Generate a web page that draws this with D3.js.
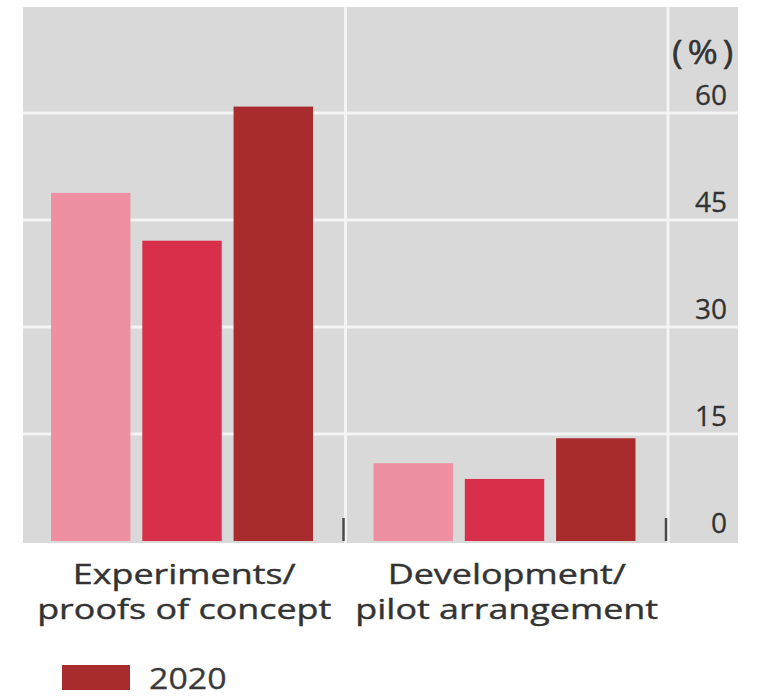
<!DOCTYPE html>
<html>
<head>
<meta charset="utf-8">
<script src="https://cdn.jsdelivr.net/npm/d3@7"></script>
<style>
  html, body { margin: 0; padding: 0; background: #ffffff; }
  svg { display: block; }
</style>
</head>
<body>
<script>
// ---- data ----
const categories = ["Experiments/ proofs of concept", "Development/ pilot arrangement"];
const categoryLines = [["Experiments/", "proofs of concept"], ["Development/", "pilot arrangement"]];
const series = ["2018", "2019", "2020"];
const values2018 = [48.8, 10.9];
const values2019 = [42.1, 8.7];
const values2020 = [60.9, 14.4];
const tickValues = [0, 15, 30, 45, 60];
const tickLabels = ["0", "15", "30", "45", "60"];
const unitLabel = "(%)";
const legendSeries = ["2020"];

const seriesValues = [values2018, values2019, values2020];
const colors = ["#EF8FA2", "#D8304B", "#A82C2D"];

// ---- layout ----
const W = 769, H = 696;
const frame = { left: 23, right: 738, top: 7, bottom: 543 };

const svg = d3.select("body").append("svg").attr("width", W).attr("height", H);

const x = d3.scaleBand().domain(categories).range([23, 668]).paddingInner(0).paddingOuter(0);
const x1 = d3.scaleBand().domain(series).range([28, 290]).paddingInner(0.13).paddingOuter(0);
const y = d3.scaleLinear().domain([0, 60]).range([541, 113]);
const color = d3.scaleOrdinal().domain(series).range(colors);

// background
svg.append("rect")
  .attr("x", frame.left).attr("y", frame.top)
  .attr("width", frame.right - frame.left).attr("height", frame.bottom - frame.top)
  .attr("fill", "#D9D9D9");

// horizontal gridlines
svg.append("g").selectAll("line")
  .data(tickValues.filter(d => d > 0))
  .join("line")
  .attr("x1", frame.left).attr("x2", frame.right)
  .attr("y1", d => y(d)).attr("y2", d => y(d))
  .attr("stroke", "#F4F4F4").attr("stroke-width", 3);

// vertical separators at band boundaries
svg.append("g").selectAll("line")
  .data(categories)
  .join("line")
  .attr("x1", d => x(d) + x.bandwidth()).attr("x2", d => x(d) + x.bandwidth())
  .attr("y1", frame.top).attr("y2", frame.bottom)
  .attr("stroke", "#F4F4F4").attr("stroke-width", 3);

// bars
const rows = categories.map((c, i) => ({ cat: c, vals: series.map((s, j) => ({ s, v: seriesValues[j][i] })) }));
svg.append("g").selectAll("g")
  .data(rows)
  .join("g")
  .attr("transform", d => `translate(${x(d.cat)},0)`)
  .selectAll("rect")
  .data(d => d.vals)
  .join("rect")
  .attr("x", d => x1(d.s))
  .attr("width", x1.bandwidth())
  .attr("y", d => y(d.v))
  .attr("height", d => y(0) - y(d.v))
  .attr("fill", d => color(d.s));

// small dark ticks at band boundaries
svg.append("g").selectAll("line")
  .data(categories)
  .join("line")
  .attr("x1", d => x(d) + x.bandwidth() - 2).attr("x2", d => x(d) + x.bandwidth() - 2)
  .attr("y1", y(0) - 23).attr("y2", y(0))
  .attr("stroke", "#4a4a4a").attr("stroke-width", 2.5);

// y tick labels (right side, above gridlines)
svg.append("g").selectAll("text")
  .data(tickValues)
  .join("text")
  .attr("x", 727)
  .attr("y", d => y(d) - 8)
  .attr("text-anchor", "end")
  .attr("font-family", "'Open Sans', sans-serif")
  .attr("font-size", 28)
  .attr("fill", "#333")
  .attr("stroke", "#333").attr("stroke-width", 0.3)
  .text((d, i) => tickLabels[i]);

// unit label
svg.append("text")
  .attr("transform", "translate(672,64) scale(1.15,1)")
  .attr("text-anchor", "start")
  .attr("font-family", "'Open Sans', sans-serif")
  .attr("font-size", 32)
  .attr("letter-spacing", 4)
  .attr("fill", "#333")
  .attr("stroke", "#333").attr("stroke-width", 0.4)
  .text(unitLabel);

// category labels
const catG = svg.append("g");
categories.forEach((c, i) => {
  const cx = x(c) + x.bandwidth() / 2;
  categoryLines[i].forEach((line, k) => {
    catG.append("text")
      .attr("transform", `translate(${cx},${584 + k * 35}) scale(1.33,1)`)
      .attr("text-anchor", "middle")
      .attr("font-family", "'Open Sans', sans-serif")
      .attr("font-size", 27)
      .attr("fill", "#333")
      .attr("stroke", "#333").attr("stroke-width", 0.4)
      .text(line);
  });
});

// legend
const lg = svg.append("g").selectAll("g").data(legendSeries).join("g");
lg.append("rect")
  .attr("x", 62).attr("y", 665).attr("width", 68).attr("height", 25)
  .attr("fill", d => color(d));
lg.append("text")
  .attr("transform", "translate(149,689) scale(1.13,1)")
  .attr("font-family", "'Open Sans', sans-serif")
  .attr("font-size", 30)
  .attr("fill", "#3a3a3a")
  .attr("stroke", "#3a3a3a").attr("stroke-width", 0.3)
  .text(d => d);
</script>
</body>
</html>
